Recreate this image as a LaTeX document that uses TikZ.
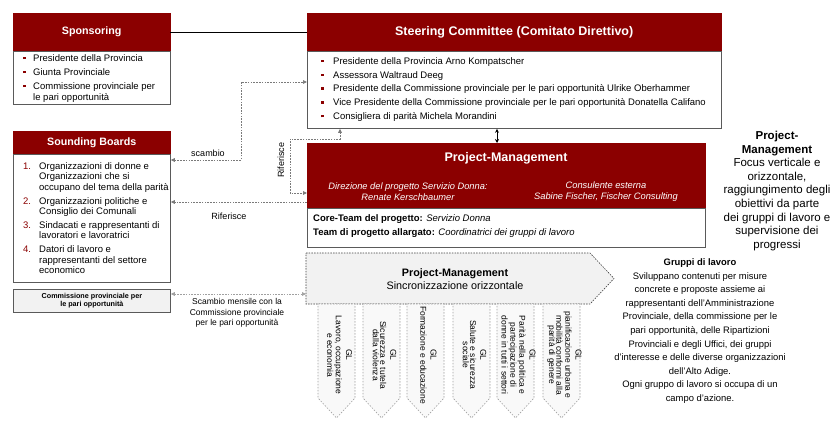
\documentclass[tikz,border=0pt]{standalone}
\usepackage{fontspec}
\setmainfont{Liberation Sans}
\usetikzlibrary{arrows.meta,calc}
\definecolor{dkred}{HTML}{8B0000}
\definecolor{bordergray}{HTML}{5A5A5A}
\definecolor{lgray}{HTML}{F2F2F2}
\definecolor{glfill}{HTML}{F9F9F9}
\definecolor{cgray}{HTML}{7A7A7A}
\definecolor{c2gray}{HTML}{A0A0A0}
\newcommand{\fs}[2]{\fontsize{#1}{#2}\selectfont}
\newcommand{\bul}{\textcolor{dkred}{\rule[0.22em]{2.3pt}{2.3pt}}}
\newcommand{\bi}[1]{\makebox[#1][l]{\bul}}
\newcommand{\numi}[2]{\makebox[#1][l]{\textcolor{dkred}{#2}}}
\begin{document}
\begin{tikzpicture}[x=1pt,y=-1pt,
  hdr/.style={draw=dkred, fill=dkred, text=white, font=\bfseries\fs{10.7}{12}, inner sep=0pt, anchor=north west},
  bodybox/.style={draw=bordergray, fill=white, line width=0.8pt, inner sep=0pt, anchor=north west},
  txt/.style={inner sep=0pt, anchor=north west, align=left},
  lbl/.style={inner sep=0pt, font=\fs{9}{10.5}, align=center},
  conn/.style={draw=cgray, line width=0.7pt, dash pattern=on 1.6pt off 1.2pt},
  conntwo/.style={draw=c2gray, line width=0.7pt, dash pattern=on 1.6pt off 1.2pt},
  tipg/.tip={Triangle[length=4pt,width=3.6pt]},
  glst/.style={draw=c2gray, fill=glfill, line width=0.6pt, dash pattern=on 1.5pt off 1.5pt},
  gltxt/.style={inner sep=0pt, rotate=-90, align=center, font=\fs{8.5}{7.2}},
]
\useasboundingbox (0,0) rectangle (835,426);

% Sponsoring
\node[hdr, minimum width=157pt, minimum height=38pt] (sph) at (13,13) {Sponsoring};
\node[bodybox, minimum width=157pt, minimum height=53pt] (spb) at (13,51) {};
\node[txt, font=\fs{9.5}{11}] (spt) at (23,54.2) {\bi{10pt}Presidente della Provincia\\[3pt]
\bi{10pt}Giunta Provinciale\\[3pt]
\bi{10pt}Commissione provinciale per\\
\hspace*{10pt}le pari opportunità};

% Steering committee
\node[hdr, font=\bfseries\fs{12.5}{14}, minimum width=414pt, minimum height=38pt] (sch) at (307,13) {Steering Committee (Comitato Direttivo)};
\node[bodybox, minimum width=414pt, minimum height=77pt] (scb) at (307,51) {};
\node[txt, font=\fs{9.5}{13.8}] (sct) at (321,57.2) {\bi{12pt}Presidente della Provincia Arno Kompatscher\\
\bi{12pt}Assessora Waltraud Deeg\\
\bi{12pt}Presidente della Commissione provinciale per le pari opportunità Ulrike Oberhammer\\
\bi{12pt}Vice Presidente della Commissione provinciale per le pari opportunità Donatella Califano\\
\bi{12pt}Consigliera di parità Michela Morandini};

\draw[line width=0.8pt] (sph.east) -- (sch.west);

% Sounding boards
\node[hdr, minimum width=157pt, minimum height=23pt] (sbh) at (13,131) {Sounding Boards};
\node[bodybox, minimum width=157pt, minimum height=128pt] (sbb) at (13,154) {};
\node[txt, font=\fs{9.5}{10.4}] (sbt) at (23,162.2) {\numi{16pt}{1.}Organizzazioni di donne e\\
\hspace*{16pt}Organizzazioni che si\\
\hspace*{16pt}occupano del tema della parità\\[3.6pt]
\numi{16pt}{2.}Organizzazioni politiche e\\
\hspace*{16pt}Consiglio dei Comunali\\[3.6pt]
\numi{16pt}{3.}Sindacati e rappresentanti di\\
\hspace*{16pt}lavoratori e lavoratrici\\[3.6pt]
\numi{16pt}{4.}Datori di lavoro e\\
\hspace*{16pt}rappresentanti del settore\\
\hspace*{16pt}economico};

% Commissione box
\node[draw=bordergray, fill=lgray, line width=0.8pt, inner sep=0pt, anchor=north west, minimum width=157pt, minimum height=23pt, align=center, font=\bfseries\fs{7.2}{8}] (cbox) at (13,289) {Commissione provinciale per\\le pari opportunità};

% Project management
\node[hdr, minimum width=398pt, minimum height=65pt] (pmh) at (307,143) {};
\node[inner sep=0pt, text=white, font=\bfseries\fs{12.5}{14}] (pmtitle) at (506,158) {Project-Management};
\node[inner sep=0pt, text=white, align=center, font=\itshape\fs{9.3}{11}] (pmleft) at (408,191.5) {Direzione del progetto Servizio Donna:\\Renate Kerschbaumer};
\node[inner sep=0pt, text=white, align=center, font=\itshape\fs{9.3}{11}] (pmright) at (606,191.5) {Consulente esterna\\Sabine Fischer, Fischer Consulting};
\node[bodybox, minimum width=398pt, minimum height=39pt] (pmb) at (307,208) {};
\node[txt, font=\fs{9.5}{14}] (pmt) at (313,214.2) {\textbf{Core-Team del progetto:} \textit{Servizio Donna}\\
\textbf{Team di progetto allargato:} \textit{Coordinatrici dei gruppi di lavoro}};

\coordinate (xa) at (497,0);
\draw[line width=0.9pt, {Stealth[length=4pt,width=4pt]}-{Stealth[length=4pt,width=4pt]}] (xa |- scb.south) -- (xa |- pmh.north);

% connectors
\coordinate (p1) at (241,160);
\coordinate (p2) at (241,82);
\draw[conn, tipg-tipg] (sbb.east |- p1) -- (p1) -- (p2) -- (scb.west |- p2);
\node[lbl] (lscambio) at (208,153) {scambio};

\coordinate (q1) at (340,139);
\coordinate (q2) at (290,139);
\coordinate (q3) at (290,193);
\draw[conn, tipg-tipg] (q1 |- scb.south) -- (q1) -- (q2) -- (q3) -- (pmh.west |- q3);
\node[lbl, rotate=90] (lrif1) at (281,160) {Riferisce};

\coordinate (r1) at (0,202);
\draw[conn, -tipg] (pmh.west |- r1) -- (sbb.east |- r1);
\node[lbl] (lrif2) at (229,216) {Riferisce};

% sync arrow
\draw[draw=black!75, fill=lgray, line width=0.6pt, dash pattern=on 1.5pt off 1.2pt] (306,253) -- (590,253) -- (614,278.5) -- (590,304) -- (306,304) -- cycle;
\coordinate (syncw) at (306,294);
\node[inner sep=0pt, align=center, font=\fs{10.8}{12.5}] (synct) at (455,279) {\textbf{Project-Management}\\Sincronizzazione orizzontale};

\draw[conntwo, tipg-tipg] (cbox.east |- syncw) -- (syncw);
\node[lbl, font=\fs{8.5}{10.3}] (lmens) at (237,313) {Scambio mensile con la\\Commissione provinciale\\per le pari opportunità};

% GL boxes
\newcommand{\glbox}[3]{%
  \draw[glst] (#1,304) -- ++(37,0) -- ++(0,94) -- ++(-18.5,20) -- ++(-18.5,-20) -- cycle;
  \node[gltxt] (#3) at ({#1+21.5},355) {#2};}
\glbox{318}{GL\\[3pt]Lavoro, occupazione\\e economia}{gla}
\glbox{363}{GL\\[3pt]Sicurezza e tutela\\dalla violenza}{glb}
\glbox{407}{GL\\[3pt]Formazione e educazione}{glc}
\glbox{453}{GL\\[3pt]Salute e sicurezza\\sociale}{gld}
\glbox{497}{GL\\[3pt]Parità nella politica e\\partecipazione di\\donne in tutti i settori}{gle}
\glbox{543}{GL\\[3pt]pianificazione urbana e\\mobilità conformi alla\\parità di genere}{glf}

% right texts
\node[inner sep=0pt, align=center, font=\fs{11.5}{13.6}] (pmnote) at (777,191) {\textbf{Project-}\\\textbf{Management}\\Focus verticale e\\orizzontale,\\raggiungimento degli\\obiettivi da parte\\dei gruppi di lavoro e\\supervisione dei\\progressi};
\node[inner sep=0pt, align=center, font=\fs{9.4}{13.6}] (glnote) at (700,331) {\textbf{Gruppi di lavoro}\\Sviluppano contenuti per misure\\concrete e proposte assieme ai\\rappresentanti dell’Amministrazione\\Provinciale, della commissione per le\\pari opportunità, delle Ripartizioni\\Provinciali e degli Uffici, dei gruppi\\d’interesse e delle diverse organizzazioni\\dell’Alto Adige.\\Ogni gruppo di lavoro si occupa di un\\campo d’azione.};
\end{tikzpicture}
\end{document}
